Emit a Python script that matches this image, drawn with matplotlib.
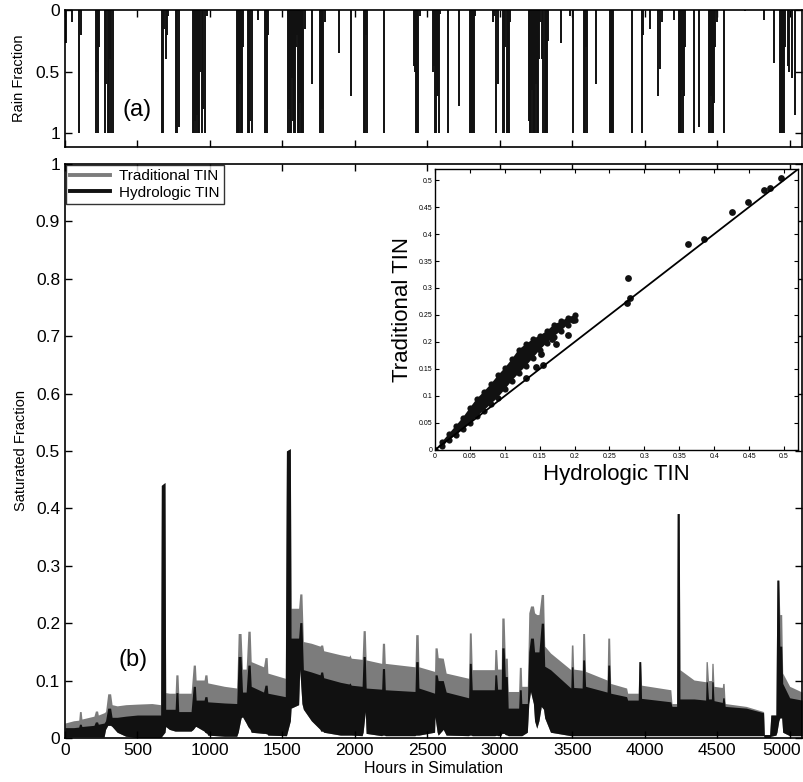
import matplotlib
matplotlib.use("Agg")
import matplotlib.pyplot as plt
import matplotlib.transforms as mtransforms
from matplotlib.ticker import FuncFormatter

plt.rcParams['font.family'] = ['Liberation Sans', 'DejaVu Sans']

# rainfall: hour of each rainy step and the fraction of the area raining
rain_hours = [5, 46, 100, 112, 214, 220, 228, 234, 276, 285, 296, 304, 312, 320, 331,
              668, 676, 684, 694, 702, 710, 765, 772, 786,
              883, 890, 897, 905, 912, 920, 928, 935, 945, 955, 965, 980,
              1186, 1193, 1200, 1207, 1214, 1221, 1228, 1262, 1270, 1280, 1290, 1331,
              1379, 1386, 1393, 1400,
              1538, 1545, 1552, 1559, 1566, 1573, 1580, 1587, 1594, 1601, 1608, 1615,
              1622, 1629, 1636, 1643, 1655, 1703, 1759, 1766, 1773, 1783, 1793,
              1890, 1972, 2062, 2069, 2076, 2083, 2200,
              2407, 2414, 2421, 2428, 2435, 2448,
              2538, 2545, 2552, 2559, 2566, 2573, 2580, 2590, 2641, 2717,
              2793, 2800, 2807, 2814, 2821, 2828, 2952, 2958, 2972, 2986,
              3021, 3028, 3038, 3048, 3055, 3062, 3069,
              3200, 3207, 3214, 3221, 3228, 3235, 3242, 3249, 3256, 3263, 3270, 3280,
              3290, 3300, 3310, 3317, 3324, 3331, 3421, 3483, 3503,
              3579, 3586, 3593, 3600, 3662, 3759, 3766, 3772, 3779,
              3910, 3979, 3986, 4034, 4090, 4103, 4117, 4200,
              4234, 4241, 4248, 4255, 4262, 4269, 4276, 4338, 4372,
              4441, 4448, 4455, 4462, 4469, 4476, 4483, 4497, 4545,
              4690, 4821, 4890, 4931, 4938, 4945, 4952, 4959, 4966,
              4986, 4996, 5014, 5034]
rain_frac = [0.27, 0.1, 1.0, 0.2, 1.0, 0.5, 1.0, 0.3, 1.0, 0.6, 1.0, 1.0, 0.4, 1.0, 1.0,
             1.0, 1.0, 0.15, 0.4, 0.2, 0.05, 1.0, 1.0, 0.95,
             1.0, 1.0, 0.9, 1.0, 0.85, 1.0, 1.0, 0.5, 1.0, 0.8, 1.0, 0.05,
             1.0, 1.0, 1.0, 0.6, 1.0, 1.0, 0.3, 1.0, 1.0, 0.9, 1.0, 0.08,
             1.0, 1.0, 1.0, 0.2,
             1.0, 0.8, 1.0, 1.0, 0.55, 0.9, 1.0, 1.0, 0.3, 0.2, 1.0, 1.0,
             0.75, 1.0, 1.0, 1.0, 0.15, 0.6, 1.0, 1.0, 0.8, 1.0, 0.1,
             0.35, 0.7, 1.0, 1.0, 0.2, 1.0, 1.0,
             0.45, 0.5, 1.0, 1.0, 1.0, 0.05,
             0.5, 0.45, 1.0, 1.0, 0.7, 0.7, 1.0, 0.03, 1.0, 0.78,
             1.0, 1.0, 1.0, 1.0, 1.0, 0.05, 0.1, 0.05, 1.0, 0.6,
             1.0, 1.0, 0.3, 1.0, 1.0, 1.0, 0.1,
             0.9, 1.0, 1.0, 0.65, 1.0, 1.0, 1.0, 0.6, 1.0, 1.0, 0.4, 0.1,
             0.4, 1.0, 1.0, 1.0, 1.0, 0.25, 0.27, 0.05, 1.0,
             1.0, 1.0, 0.3, 1.0, 0.6, 1.0, 1.0, 1.0, 1.0,
             1.0, 1.0, 0.2, 0.15, 0.7, 0.48, 0.1, 0.08,
             1.0, 1.0, 1.0, 0.65, 1.0, 0.7, 0.3, 1.0, 0.95,
             1.0, 1.0, 0.7, 1.0, 1.0, 0.75, 0.3, 0.1, 1.0,
             0.01, 0.08, 0.43, 1.0, 1.0, 1.0, 1.0, 1.0, 0.3,
             0.45, 0.5, 0.55, 0.85]

# saturated fraction envelopes (daily cycle peaks and troughs)
sat_hours = [0, 60, 95, 100, 112, 117, 200, 210, 225, 230, 270, 280, 295, 315, 325, 360,
             420, 500, 600, 660, 665, 690, 695, 720, 760, 765, 780, 785, 870, 885, 900,
             905, 960, 965, 980, 985, 1100, 1185, 1195, 1215, 1225, 1250, 1262, 1278,
             1285, 1370, 1380, 1395, 1400, 1520, 1528, 1555, 1560, 1612, 1620, 1635,
             1645, 1700, 1760, 1765, 1778, 1785, 1900, 1960, 1966, 1975, 2050, 2057,
             2072, 2078, 2185, 2190, 2205, 2210, 2415, 2420, 2437, 2442, 2550, 2553,
             2568, 2575, 2610, 2630, 2785, 2790, 2803, 2810, 2962, 2966, 2978, 2985,
             3010, 3014, 3030, 3038, 3052, 3058, 3130, 3135, 3148, 3152, 3190, 3200,
             3212, 3232, 3240, 3255, 3270, 3286, 3302, 3310, 3350, 3490, 3494, 3505,
             3510, 3568, 3572, 3585, 3592, 3740, 3745, 3758, 3765, 3875, 3882, 3955,
             3960, 3972, 3978, 4180, 4188, 4220, 4224, 4238, 4243, 4340, 4420, 4423,
             4432, 4440, 4460, 4463, 4472, 4478, 4535, 4538, 4548, 4555, 4700, 4820,
             4825, 4862, 4870, 4905, 4912, 4925, 4932, 4945, 4952, 5000, 5085]
trad_hi = [0.026, 0.030, 0.031, 0.046, 0.046, 0.033, 0.038, 0.047, 0.047, 0.040, 0.044,
           0.046, 0.077, 0.077, 0.058, 0.056, 0.058, 0.059, 0.060, 0.058, 0.440, 0.445,
           0.079, 0.078, 0.078, 0.110, 0.110, 0.078, 0.078, 0.127, 0.127, 0.101, 0.101,
           0.110, 0.110, 0.096, 0.090, 0.087, 0.182, 0.182, 0.120, 0.120, 0.186, 0.186,
           0.133, 0.124, 0.140, 0.140, 0.113, 0.104, 0.500, 0.504, 0.226, 0.226, 0.251,
           0.251, 0.168, 0.165, 0.160, 0.162, 0.162, 0.152, 0.145, 0.142, 0.145, 0.139,
           0.137, 0.187, 0.187, 0.136, 0.130, 0.165, 0.165, 0.130, 0.124, 0.180, 0.180,
           0.124, 0.116, 0.157, 0.157, 0.140, 0.139, 0.113, 0.104, 0.183, 0.183, 0.119,
           0.119, 0.154, 0.154, 0.120, 0.120, 0.209, 0.209, 0.139, 0.139, 0.081, 0.081,
           0.123, 0.123, 0.090, 0.090, 0.218, 0.230, 0.230, 0.218, 0.215, 0.215, 0.250,
           0.250, 0.160, 0.148, 0.119, 0.162, 0.162, 0.120, 0.118, 0.182, 0.182, 0.116,
           0.101, 0.174, 0.174, 0.095, 0.087, 0.078, 0.078, 0.133, 0.133, 0.092, 0.084,
           0.060, 0.060, 0.391, 0.391, 0.119, 0.101, 0.098, 0.133, 0.133, 0.100, 0.100,
           0.130, 0.130, 0.090, 0.088, 0.095, 0.095, 0.060, 0.055, 0.046, 0.006, 0.006,
           0.040, 0.040, 0.275, 0.275, 0.215, 0.215, 0.113, 0.090, 0.080]
hyd_hi = [0.018, 0.018, 0.019, 0.024, 0.024, 0.020, 0.022, 0.028, 0.028, 0.024, 0.026,
          0.030, 0.052, 0.052, 0.036, 0.036, 0.038, 0.040, 0.040, 0.040, 0.440, 0.445,
          0.050, 0.050, 0.050, 0.079, 0.079, 0.046, 0.046, 0.090, 0.090, 0.066, 0.066,
          0.072, 0.072, 0.063, 0.061, 0.060, 0.142, 0.142, 0.080, 0.080, 0.127, 0.127,
          0.090, 0.080, 0.092, 0.092, 0.078, 0.072, 0.500, 0.504, 0.174, 0.174, 0.201,
          0.201, 0.119, 0.115, 0.110, 0.115, 0.115, 0.105, 0.097, 0.094, 0.096, 0.092,
          0.090, 0.142, 0.142, 0.087, 0.085, 0.121, 0.121, 0.084, 0.081, 0.133, 0.133,
          0.087, 0.078, 0.110, 0.110, 0.100, 0.100, 0.080, 0.070, 0.130, 0.130, 0.084,
          0.084, 0.110, 0.110, 0.085, 0.085, 0.157, 0.157, 0.107, 0.107, 0.052, 0.052,
          0.084, 0.084, 0.060, 0.060, 0.150, 0.174, 0.174, 0.150, 0.150, 0.150, 0.200,
          0.200, 0.125, 0.119, 0.087, 0.124, 0.124, 0.088, 0.087, 0.136, 0.136, 0.090,
          0.080, 0.127, 0.127, 0.078, 0.072, 0.066, 0.066, 0.133, 0.133, 0.069, 0.063,
          0.055, 0.055, 0.391, 0.391, 0.068, 0.068, 0.066, 0.098, 0.098, 0.068, 0.068,
          0.098, 0.098, 0.065, 0.062, 0.070, 0.070, 0.055, 0.052, 0.044, 0.006, 0.006,
          0.040, 0.040, 0.275, 0.275, 0.160, 0.160, 0.095, 0.070, 0.066]
hyd_lo = [0.002, 0.002, 0.002, 0.002, 0.002, 0.002, 0.002, 0.002, 0.002, 0.002, 0.002,
          0.015, 0.022, 0.022, 0.020, 0.010, 0.003, 0.001, 0.001, 0.001, 0.002, 0.010,
          0.020, 0.015, 0.012, 0.012, 0.012, 0.012, 0.012, 0.015, 0.020, 0.020, 0.012,
          0.010, 0.008, 0.005, 0.003, 0.003, 0.010, 0.035, 0.037, 0.026, 0.020, 0.015,
          0.010, 0.008, 0.008, 0.007, 0.005, 0.004, 0.004, 0.030, 0.052, 0.058, 0.120,
          0.060, 0.050, 0.030, 0.015, 0.012, 0.012, 0.010, 0.005, 0.005, 0.005, 0.005,
          0.004, 0.010, 0.046, 0.008, 0.004, 0.005, 0.005, 0.004, 0.004, 0.005, 0.005,
          0.005, 0.010, 0.037, 0.010, 0.005, 0.015, 0.005, 0.004, 0.005, 0.005, 0.004,
          0.004, 0.004, 0.005, 0.004, 0.005, 0.008, 0.008, 0.006, 0.005, 0.004, 0.004,
          0.004, 0.004, 0.004, 0.010, 0.060, 0.081, 0.060, 0.030, 0.017, 0.030, 0.055,
          0.050, 0.035, 0.010, 0.004, 0.004, 0.004, 0.004, 0.004, 0.004, 0.004, 0.004,
          0.004, 0.004, 0.004, 0.004, 0.004, 0.004, 0.004, 0.004, 0.004, 0.004, 0.004,
          0.004, 0.004, 0.004, 0.004, 0.004, 0.004, 0.004, 0.004, 0.004, 0.004, 0.004,
          0.004, 0.004, 0.004, 0.004, 0.004, 0.004, 0.004, 0.004, 0.004, 0.001, 0.001,
          0.003, 0.005, 0.010, 0.030, 0.035, 0.035, 0.010, 0.004, 0.004]

# scatter of saturated fraction: dense cluster band plus isolated points
band_x = [0.0, 0.01, 0.02, 0.03, 0.04, 0.05, 0.06, 0.07, 0.08, 0.09, 0.10,
          0.11, 0.12, 0.13, 0.14, 0.15, 0.16, 0.17, 0.18, 0.19, 0.20]
band_hi = [0.0, 0.015, 0.03, 0.045, 0.06, 0.078, 0.095, 0.108, 0.122, 0.138, 0.152,
           0.168, 0.186, 0.196, 0.205, 0.212, 0.22, 0.232, 0.238, 0.245, 0.25]
band_lo = [0.0, 0.008, 0.018, 0.028, 0.038, 0.05, 0.062, 0.073, 0.085, 0.097, 0.112,
           0.128, 0.142, 0.155, 0.17, 0.185, 0.198, 0.21, 0.22, 0.232, 0.24]
pts_hyd = [0.13, 0.145, 0.155, 0.152, 0.168, 0.173, 0.19, 0.198, 0.275, 0.28, 0.277,
           0.363, 0.386, 0.426, 0.449, 0.471, 0.48, 0.495]
pts_trad = [0.134, 0.154, 0.158, 0.178, 0.205, 0.196, 0.213, 0.24, 0.272, 0.282, 0.319,
            0.381, 0.39, 0.441, 0.46, 0.481, 0.486, 0.503]

fig = plt.figure(figsize=(8.04, 7.82), dpi=100)
ax_rain = fig.add_axes([0.0808, 0.812, 0.9167, 0.1752])
ax = fig.add_axes([0.0808, 0.0563, 0.9167, 0.734])
ax_in = fig.add_axes([0.541, 0.4246, 0.4515, 0.359])

fmt = FuncFormatter(lambda v, p: '%g' % round(v, 3))

# (a) rain fraction, drawn hanging from the top
ax_rain.vlines(rain_hours, 0, rain_frac, colors='#111111', linewidth=1.4)
ax_rain.set_xlim(0, 5085)
ax_rain.set_ylim(1.11, 0)
ax_rain.set_yticks([0, 0.5, 1])
ax_rain.yaxis.set_major_formatter(fmt)
ax_rain.set_xticks(range(0, 5001, 500))
ax_rain.set_xticklabels([])
ax_rain.set_ylabel('Rain Fraction', fontsize=10.5, labelpad=7)
ax_rain.text(497, 0.81, '(a)', fontsize=17, ha='center', va='center')

# (b) saturated fraction over time
ax.fill_between(sat_hours, hyd_lo, trad_hi, color='#7c7c7c', linewidth=0)
ax.fill_between(sat_hours, hyd_lo, hyd_hi, color='#111111', linewidth=0)
ax.plot([], [], color='#7c7c7c', lw=2.8, label='Traditional TIN')
ax.plot([], [], color='#111111', lw=2.8, label='Hydrologic TIN')
ax.set_xlim(0, 5085)
ax.set_ylim(0, 1)
ax.set_xticks(range(0, 5001, 500))
ax.set_yticks([i / 10 for i in range(11)])
ax.yaxis.set_major_formatter(fmt)
ax.set_xlabel('Hours in Simulation', fontsize=11.5, labelpad=2)
ax.set_ylabel('Saturated Fraction', fontsize=10.5, labelpad=6)
ax.text(470, 0.136, '(b)', fontsize=17, ha='center', va='center')
leg = ax.legend(loc='upper left', fontsize=11, frameon=True, fancybox=False,
                borderaxespad=0.05, handlelength=2.6, borderpad=0.3,
                labelspacing=0.15, handletextpad=0.6)
leg.get_frame().set_edgecolor('black')
leg.get_frame().set_linewidth(1.0)

for a in (ax_rain, ax):
    a.tick_params(direction='in', top=True, right=True, length=5, width=1,
                  labelsize=12.5)
    for s in a.spines.values():
        s.set_linewidth(1.2)

# keep the last hour label inside the figure edge
last = ax.get_xticklabels()[-1]
last.set_transform(last.get_transform() +
                   mtransforms.ScaledTranslation(-6 / 72, 0, fig.dpi_scale_trans))

# inset: traditional vs hydrologic
ax_in.fill(band_x + band_x[::-1], band_hi + band_lo[::-1], color='#111111', lw=0)
ax_in.scatter(band_x + band_x, band_hi + band_lo, s=20, color='#111111', lw=0)
ax_in.scatter(pts_hyd, pts_trad, s=24, color='#111111', lw=0)
ax_in.plot([0, 0.52], [0, 0.52], color='black', lw=1.3)
ax_in.set_xlim(0, 0.52)
ax_in.set_ylim(0, 0.52)
ticks = [i * 0.05 for i in range(11)]
ax_in.set_xticks(ticks)
ax_in.set_yticks(ticks)
ax_in.xaxis.set_major_formatter(fmt)
ax_in.yaxis.set_major_formatter(fmt)
ax_in.tick_params(direction='in', top=True, right=True, length=3, width=0.8,
                  labelsize=5, pad=2)
ax_in.set_xlabel('Hydrologic TIN', fontsize=16, labelpad=3)
ax_in.set_ylabel('Traditional TIN', fontsize=16, labelpad=4)
for s in ax_in.spines.values():
    s.set_linewidth(1.0)

fig.savefig('out.png', dpi=100)
